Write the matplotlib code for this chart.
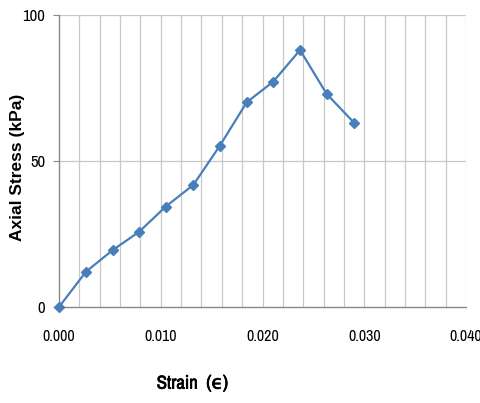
import matplotlib
matplotlib.use('Agg')
import matplotlib.pyplot as plt
import matplotlib.patheffects as pe
from matplotlib import font_manager
import numpy as np

# data
strain = [0.0, 0.00265, 0.00528, 0.00789, 0.01049, 0.0132, 0.01582, 0.01845, 0.02106, 0.02369, 0.0263, 0.0290]
stress = [0.0, 12.1, 19.5, 25.8, 34.4, 41.8, 55.3, 70.1, 77.2, 88.0, 73.0, 63.1]
x_ticks = [0.0, 0.01, 0.02, 0.03, 0.04]
y_ticks = [0, 50, 100]

# look for a narrow face (Calibri-like look of the reference)
fonts = font_manager.fontManager.ttflist
names = sorted(set(f.name for f in fonts))
narrow_name = None
for n in names:
    if 'Narrow' in n or 'Condensed' in n:
        narrow_name = n
        break
narrow = [narrow_name, 'DejaVu Sans'] if narrow_name else ['DejaVu Sans']

fig = plt.figure(figsize=(4.81, 4.03), dpi=100)
ax = fig.add_axes([0.1227, 0.2382, 0.8461, 0.7246])

# vertical grid every 0.002
for gx in np.arange(0.002, 0.0401, 0.002):
    ax.axvline(gx, color='#c8c8c8', lw=0.9, zorder=0)
for gy in y_ticks[1:]:
    ax.axhline(gy, color='#c8c8c8', lw=0.9, zorder=0)

ax.plot(strain, stress, color='#4a7ebb', lw=1.6, marker='D', ms=5,
        mfc='#4a7ebb', mec='#4a7ebb', zorder=3, clip_on=False)

ax.set_xlim(0, 0.04)
ax.set_ylim(0, 100)
ax.set_xticks(x_ticks)
ax.set_xticklabels(['%.3f' % v for v in x_ticks], family=narrow, fontsize=11.5)
ax.set_yticks(y_ticks)
ax.set_yticklabels([str(v) for v in y_ticks], family=narrow, fontsize=12)
ax.tick_params(axis='x', length=0, pad=16)
ax.tick_params(axis='y', length=4, color='#888888', pad=6)

for s in ['top', 'right']:
    ax.spines[s].set_visible(False)
for s in ['left', 'bottom']:
    ax.spines[s].set_color('#888888')
    ax.spines[s].set_linewidth(1.0)

fig.text(0.037, 0.585, 'Axial Stress (kPa)', rotation=90, ha='center', va='center',
         fontsize=12.5, fontweight='bold', family=['Liberation Sans', 'DejaVu Sans'])
fig.text(0.40, 0.048, 'Strain  (\u03f5)', ha='center', va='center',
         fontsize=13.5, family=narrow,
         path_effects=[pe.withStroke(linewidth=0.5, foreground='black')])

fig.savefig('out.png', dpi=100)
